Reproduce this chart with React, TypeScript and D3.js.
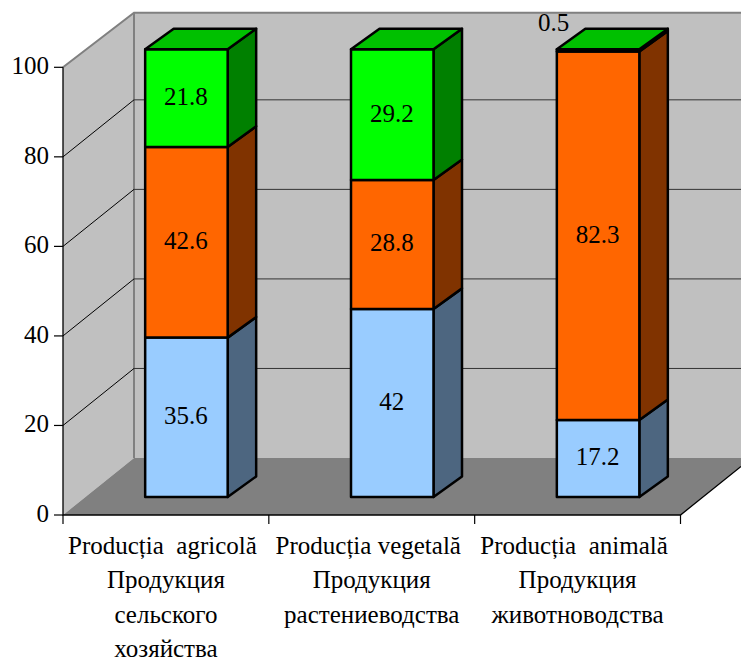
import * as d3 from "d3";

const yTicks = [0, 20, 40, 60, 80, 100];
const categoryLines = [
  ["Producția  agricolă", "Продукция", "сельского", "хозяйства"],
  ["Producția vegetală", "Продукция", "растениеводства"],
  ["Producția  animală", "Продукция", "животноводства"],
];
const categories = categoryLines.map((c) => c[0]);
const seriesBottom = [35.6, 42, 17.2];
const seriesMiddle = [42.6, 28.8, 82.3];
const seriesTop = [21.8, 29.2, 0.5];
const seriesNames = ["bottom", "middle", "top"];

const FONT = "'Liberation Serif', 'Times New Roman', serif";
const FRONT = ["#99ccff", "#ff6600", "#00ff00"];
const SIDE = ["#4d6680", "#803300", "#008000"];
const TOP = "#00c000";

// projection of the box
const y = d3.scaleLinear().domain([0, 100]).range([515, 67.3]);
const x = d3.scaleBand<string>().domain(categories).range([63, 680.5]);
const barY = d3.scaleLinear().domain([0, 100]).range([497, 49.3]);
const DEPTH = { dx: 71, dy: -57 };
const BAR_DEPTH = { dx: 28.5, dy: -20.6 };
const BAR_W = 82.5;
const BAR_OFFSET = 20.5;

const stacked = d3
  .stack<number>()
  .keys(seriesNames)
  .value((i, key) =>
    key === "bottom" ? seriesBottom[i] : key === "middle" ? seriesMiddle[i] : seriesTop[i]
  )(categories.map((_, i) => i));

const poly = (pts: [number, number][]) => {
  const p = d3.path();
  pts.forEach(([a, b], i) => (i ? p.lineTo(a, b) : p.moveTo(a, b)));
  p.closePath();
  return p.toString();
};

export default function App() {
  const x0 = x.range()[0];
  const x1 = x.range()[1];
  const backX = x0 + DEPTH.dx;
  const backTop = y(100) + DEPTH.dy + 2.4;
  const backBottom = y(0) + DEPTH.dy;
  const cut = 741;
  const floorCutY = y(0) + ((cut - x1) / DEPTH.dx) * DEPTH.dy;
  const fs = 25;

  return (
    <svg
      width={741}
      height={659}
      style={{ position: "absolute", left: 0, top: 0, fontFamily: FONT }}
    >
      {/* walls */}
      <rect x={backX} y={backTop} width={cut - backX} height={backBottom - backTop} fill="#c0c0c0" />
      <path
        d={poly([[x0, y(100)], [backX, backTop], [backX, backBottom], [x0, y(0)]])}
        fill="#c0c0c0"
      />
      <path
        d={poly([[x0, y(0)], [backX, backBottom], [cut, backBottom], [cut, floorCutY], [x1, y(0)]])}
        fill="#808080"
      />
      {/* wall edges */}
      <path
        d={`M${x0},${y(100)}L${backX},${backTop}L${cut},${backTop}M${backX},${backTop}L${backX},${backBottom}`}
        fill="none"
        stroke="#808080"
        strokeWidth={2}
      />
      {/* gridlines */}
      {yTicks.slice(1, -1).map((t) => (
        <g key={t}>
          <line x1={x0} y1={y(t)} x2={backX} y2={y(t) + DEPTH.dy} stroke="#000" strokeWidth={1} />
          <line x1={backX} y1={y(t) + DEPTH.dy} x2={cut} y2={y(t) + DEPTH.dy} stroke="#333" strokeWidth={1} />
        </g>
      ))}
      {/* bars */}
      {categories.map((c, i) => {
        const left = x(c)! + x.bandwidth() / 2 + BAR_OFFSET - BAR_W / 2;
        const right = left + BAR_W;
        const stackTop = barY(stacked[2][i][1]);
        return (
          <g key={c} stroke="#000" strokeWidth={2.5} strokeLinejoin="round">
            {stacked.map((s, k) => {
              const [v0, v1] = s[i];
              const top = barY(v1);
              const bot = barY(v0);
              return (
                <g key={s.key}>
                  <path
                    d={poly([
                      [right, bot],
                      [right + BAR_DEPTH.dx, bot + BAR_DEPTH.dy],
                      [right + BAR_DEPTH.dx, top + BAR_DEPTH.dy],
                      [right, top],
                    ])}
                    fill={SIDE[k]}
                  />
                  <rect x={left} y={top} width={BAR_W} height={bot - top} fill={FRONT[k]} />
                </g>
              );
            })}
            <path
              d={poly([
                [left, stackTop],
                [left + BAR_DEPTH.dx, stackTop + BAR_DEPTH.dy],
                [right + BAR_DEPTH.dx, stackTop + BAR_DEPTH.dy],
                [right, stackTop],
              ])}
              fill={TOP}
            />
          </g>
        );
      })}
      {/* value labels */}
      {categories.map((c, i) => {
        const cx = x(c)! + x.bandwidth() / 2 + BAR_OFFSET;
        return stacked.map((s) => {
          const [v0, v1] = s[i];
          const value = v1 - v0;
          const small = value < 2;
          return (
            <text
              key={s.key}
              x={small ? cx - 44.5 : cx - 0.5}
              y={small ? barY(v1) - 18 : barY((v0 + v1) / 2) + 7}
              fontSize={fs}
              textAnchor="middle"
              fill="#000"
            >
              {+value.toFixed(1)}
            </text>
          );
        });
      })}
      {/* axes */}
      <path
        d={`M${x0},${y(100)}L${x0},${y(0)}L${x1},${y(0)}L${cut},${floorCutY}`}
        fill="none"
        stroke="#000"
        strokeWidth={1.3}
      />
      {yTicks.map((t) => (
        <g key={t}>
          <line x1={x0 - 9} x2={x0} y1={y(t)} y2={y(t)} stroke="#000" strokeWidth={1.2} />
          <text x={x0 - 14} y={y(t) + 7} fontSize={fs} textAnchor="end" fill="#000">
            {t}
          </text>
        </g>
      ))}
      {[...categories.map((c) => x(c)!), x1].map((v) => (
        <line key={v} x1={v} x2={v} y1={y(0)} y2={y(0) + 9} stroke="#000" strokeWidth={1.2} />
      ))}
      {categories.map((c, i) => (
        <text
          key={c}
          fontSize={25}
          textAnchor="middle"
          fill="#000"
          style={{ whiteSpace: "pre" }}
        >
          {categoryLines[i].map((line, j) => (
            <tspan
              key={j}
              x={x(c)! + x.bandwidth() / 2 - (j === 0 ? 3.5 : 0)}
              y={554 + j * 34.3}
            >
              {line}
            </tspan>
          ))}
        </text>
      ))}
    </svg>
  );
}
